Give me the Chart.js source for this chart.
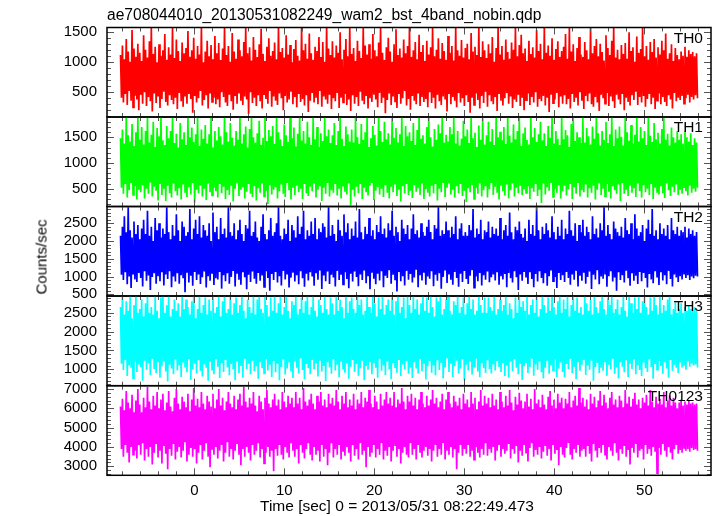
<!DOCTYPE html>
<html><head><meta charset="utf-8">
<script src="https://cdn.jsdelivr.net/npm/chart.js@4.4.1/dist/chart.umd.min.js"></script>
<style>
html,body{margin:0;padding:0;background:#fff;}
#wrap{position:relative;width:717px;height:516px;overflow:hidden;font-family:"Liberation Sans",Arial,Helvetica,sans-serif;}
#wrap canvas{position:absolute;left:0;top:0;}
.t{position:absolute;white-space:nowrap;color:#000;z-index:5;font-weight:normal;}
.v{writing-mode:vertical-rl;transform:translate(-50%,-50%) rotate(180deg);}
</style></head><body>
<div id="wrap">
<canvas id="c0" width="717" height="516"></canvas>
<canvas id="c1" width="717" height="516"></canvas>
<canvas id="c2" width="717" height="516"></canvas>
<canvas id="c3" width="717" height="516"></canvas>
<canvas id="c4" width="717" height="516"></canvas>
<div class="t" style="left:107px;top:7px;font-size:15.6px;line-height:15px;">ae708044010_20130531082249_wam2_bst_4band_nobin.qdp</div>
<div class="t v" style="left:41px;top:257px;font-size:15px;line-height:15px;">Counts/sec</div>
<div class="t" style="left:260px;top:498px;font-size:15.5px;line-height:15px;">Time [sec] 0 = 2013/05/31 08:22:49.473</div>
<div id="labels"></div>
</div>
<script>
// ---- time grid of the light curves (seconds from 2013/05/31 08:22:49.473) ----
const tStart = -8.2, tStep = 0.10701;   // 600 bins from -8.2 s to 55.9 s
const xMin = -9.7, xMax = 57.4;
const xTicks = [0, 10, 20, 30, 40, 50];

// ---- panel names ----
const bands = ['TH0', 'TH1', 'TH2', 'TH3', 'TH0123'];

// ---- count rates (counts/sec) ----
const th0 = [
1120,410,1280,330,1050,470,1390,290,1180,520,1010,360,1540,250,1230,440,1090,380,1310,200,
1160,460,1020,310,1450,500,1210,270,1080,420,1350,350,1580,180,1140,480,1260,320,1000,430,
1300,240,1110,390,1200,510,1470,340,1040,280,1250,450,1130,370,1580,300,1070,410,1380,220,
1190,490,1020,350,1330,260,1150,430,1240,310,1520,470,1090,390,1200,160,1410,440,1060,330,
1270,400,1130,520,1580,280,1000,370,1180,450,1360,230,1100,480,1290,340,1050,410,1440,300,
1150,380,1320,250,1040,500,1230,420,1580,330,1120,270,1270,460,1010,350,1490,210,1180,440,
1060,310,1380,480,1200,360,1100,290,1340,430,1580,380,1150,140,1250,500,1030,320,1420,410,
1210,270,1090,450,1300,350,1560,230,1140,470,1020,390,1260,310,1400,520,1110,260,1190,430,
1330,360,1050,290,1580,480,1170,400,1240,200,1080,440,1450,330,1130,380,1290,510,1000,300,
1220,420,1370,250,1110,470,1030,340,1580,390,1200,280,1310,450,1060,170,1480,360,1150,490,
1040,330,1260,410,1190,300,1420,520,1090,260,1340,430,1010,380,1580,310,1230,460,1120,220,
1350,400,1080,350,1280,490,1160,240,1500,410,1050,330,1210,470,1390,290,1100,380,1580,190,
1140,450,1240,310,1020,420,1360,270,1190,510,1070,360,1580,300,1280,440,1130,230,1300,400,
1060,340,1470,460,1200,380,1100,250,1330,490,1580,320,1160,410,1040,150,1250,370,1410,480,
1180,290,1010,430,1300,350,1550,240,1120,470,1230,310,1080,400,1380,520,1150,280,1270,390,
1580,210,1090,440,1200,360,1340,300,1050,480,1460,270,1170,420,1290,340,1020,390,1360,250,
1130,500,1250,320,1580,410,1100,230,1210,460,1400,350,1060,290,1320,430,1190,380,1040,180,
1440,470,1160,300,1270,420,1030,360,1580,250,1200,490,1110,330,1370,400,1080,270,1240,450,
1310,340,1050,160,1490,410,1180,290,1260,480,1120,370,1580,230,1090,440,1350,320,1200,510,
1070,260,1300,450,1150,350,1420,300,1010,420,1240,190,1580,470,1130,360,1270,280,1040,400,
1380,490,1170,310,1060,430,1330,240,1210,380,1580,340,1100,460,1290,270,1460,410,1150,200,
1230,370,1020,480,1360,290,1140,420,1250,330,1080,500,1540,260,1190,390,1310,350,1050,440,
1580,280,1160,410,1280,170,1110,460,1400,320,1040,380,1220,490,1350,250,1090,430,1190,310,
1260,450,1470,300,1060,390,1580,230,1180,470,1300,340,1020,410,1240,280,1420,500,1130,360,
1090,220,1340,440,1200,350,1050,480,1580,300,1150,260,1270,420,1390,330,1100,190,1310,460,
1170,400,1030,310,1450,490,1240,270,1120,430,1360,350,1580,240,1080,460,1210,380,1050,300,
1290,470,1140,200,1320,410,1060,340,1500,280,1190,450,1250,370,1010,510,1430,290,1160,420,
1220,330,1580,440,1100,260,1270,390,1040,470,1340,300,1170,410,1390,220,1080,360,1250,480,
1130,300,1360,420,1200,340,1480,270,1060,450,1150,380,1300,230,1020,490,1240,350,1120,410,
1050,370,1180,440,1110,310,1260,400,1090,460,1200,330,1140,420,1170,380,1100,450,1150,400];
const th1 = [
1480,520,1650,400,1380,590,1895,330,1540,470,1420,610,1760,380,1330,550,1600,290,1895,480,
1450,430,1700,570,1360,310,1620,500,1895,400,1400,620,1550,350,1800,540,1310,460,1680,270,
1520,590,1895,380,1440,500,1350,260,1720,560,1480,410,1620,330,1895,600,1390,450,1570,370,
1300,510,1780,290,1460,580,1600,420,1350,340,1895,530,1500,390,1690,610,1410,230,1560,480,
1895,410,1330,560,1650,350,1470,500,1740,280,1380,600,1560,430,1895,370,1300,520,1620,450,
1440,330,1700,590,1520,410,1360,540,1895,300,1600,470,1420,380,1780,560,1490,250,1340,500,
1620,600,1450,360,1895,480,1380,530,1560,310,1710,440,1300,590,1660,400,1895,340,1500,550,
1400,270,1580,510,1820,420,1350,600,1490,350,1895,460,1430,200,1640,570,1520,390,1720,480,
1370,530,1895,310,1600,450,1460,580,1330,400,1750,340,1540,610,1410,470,1895,290,1480,520,
1690,380,1320,560,1570,430,1895,500,1440,300,1620,590,1380,410,1800,360,1500,540,1350,450,
1895,600,1460,330,1700,480,1310,550,1580,260,1430,520,1895,400,1520,610,1650,350,1390,470,
1540,420,1780,590,1350,370,1620,500,1895,310,1470,560,1330,440,1710,390,1560,600,1420,180,
1650,480,1400,350,1895,540,1500,410,1370,590,1760,300,1450,520,1600,430,1895,370,1310,560,
1480,610,1720,280,1550,460,1340,530,1895,390,1620,500,1410,340,1800,570,1460,420,1580,310,
1360,540,1895,430,1490,600,1680,360,1400,480,1560,250,1895,550,1330,410,1720,590,1520,380,
1600,460,1430,320,1780,570,1350,440,1640,510,1895,380,1470,600,1540,300,1380,490,1700,420,
1895,350,1500,560,1320,410,1660,590,1450,270,1750,500,1580,430,1895,610,1400,340,1550,520,
1420,600,1700,390,1560,480,1895,330,1380,550,1620,410,1340,590,1470,360,1820,460,1520,240,
1650,510,1390,430,1895,570,1480,300,1590,520,1310,400,1730,600,1450,350,1895,470,1360,550,
1540,330,1800,490,1420,610,1660,380,1350,540,1895,420,1500,290,1610,560,1440,450,1700,370,
1370,580,1895,310,1530,470,1400,600,1750,350,1460,520,1620,410,1895,560,1330,380,1580,490,
1690,420,1450,550,1360,300,1895,510,1500,440,1680,590,1410,360,1560,480,1800,220,1440,600,
1580,390,1330,530,1720,460,1490,610,1895,340,1380,500,1620,420,1470,570,1350,310,1895,450,
1460,560,1640,370,1540,490,1310,590,1760,300,1895,530,1430,400,1600,610,1500,350,1390,470,
1895,430,1400,580,1680,330,1520,510,1360,420,1710,560,1470,290,1895,480,1580,600,1340,380,
1620,500,1450,350,1800,590,1390,440,1560,310,1895,550,1330,470,1650,400,1480,580,1710,260,
1510,610,1340,400,1895,480,1600,360,1440,560,1740,420,1380,510,1550,340,1895,600,1420,450,
1700,330,1480,570,1620,430,1350,500,1895,380,1530,590,1410,300,1780,520,1460,440,1590,390,
1380,550,1660,410,1895,320,1450,600,1570,470,1340,360,1690,540,1500,430,1400,580,1620,380,
1450,480,1560,400,1380,530,1620,450,1500,370,1420,560,1580,420,1350,500,1480,440,1400,520];
const th2 = [
2150,1050,2400,900,2700,1120,2250,780,2950,1000,2300,680,2100,1080,2550,920,2200,850,2450,1100,
2050,960,2350,720,2600,1150,2200,880,2850,1030,2150,620,2400,990,2000,1090,2650,800,2300,1010,
2500,870,2100,1120,2350,750,2200,1060,2950,930,2250,1150,2050,700,2450,1000,2150,860,2750,1090,
2300,800,2000,1040,2550,950,2400,560,2150,1110,2250,830,2900,1020,2050,740,2350,1130,2600,900,
2200,1060,2700,790,2100,980,2450,1140,2300,690,2150,1010,2500,880,2000,1100,2800,760,2250,950,
2400,920,2050,1130,2650,660,2200,1040,2350,870,2100,1090,2950,800,2250,990,2150,1160,2500,720,
2050,1080,2300,910,2600,770,2200,1120,2000,980,2450,640,2350,1050,2850,850,2150,1140,2250,940,
2550,800,2100,1100,2000,880,2400,1030,2750,710,2200,1150,2050,960,2300,600,2650,1070,2150,900,
2250,1130,2500,830,2950,1010,2150,750,2050,1160,2350,920,2200,1060,2600,690,2000,970,2450,1110,
2300,860,2100,1040,2700,780,2200,1150,2400,950,2850,710,2050,1080,2300,890,2150,1120,2550,1000,
2200,740,2650,1090,2050,910,2350,1170,2250,650,2500,1030,2400,870,2100,1140,2950,790,2150,1050,
2450,970,2200,720,2000,1160,2600,900,2300,1050,2150,780,2750,1120,2250,930,2500,670,2050,1080,
2350,860,2150,1140,2550,990,2100,730,2900,1060,2250,900,2050,1170,2400,810,2200,1010,2650,640,
2150,1110,2300,940,2050,780,2450,1080,2250,890,2700,1150,2200,700,2350,1020,2100,960,2500,1180,
2300,800,2850,1050,2150,920,2400,580,2250,1130,2000,870,2600,1010,2350,750,2200,1160,2450,910,
2050,1070,2350,830,2750,970,2200,1190,2300,700,2100,1040,2500,890,2250,1110,2150,770,2400,1000,
2600,940,2250,1150,2050,730,2450,1050,2350,880,2950,1090,2150,660,2300,990,2200,1170,2550,820,
2300,1060,2100,910,2400,770,2200,1130,2700,960,2050,710,2350,1080,2500,850,2150,1160,2250,930,
2150,790,2450,1020,2300,1180,2900,690,2100,1000,2350,870,2200,1100,2600,750,2050,1040,2300,910,
2250,1140,2550,840,2100,980,2400,1060,2200,890,2350,1120,2150,770,2650,1010,2050,920,2300,1070,
2450,700,2150,1100,2800,950,2250,830,2050,1150,2400,980,2300,620,2550,1060,2200,880,2100,1130,
2350,1000,2000,790,2600,1120,2200,930,2450,700,2150,1070,2950,860,2300,1150,2050,960,2400,810,
2200,1090,2500,740,2300,1010,2100,1170,2700,870,2250,990,2050,680,2400,1100,2150,900,2600,1040,
2050,850,2350,1130,2200,960,2850,770,2300,1060,2150,910,2500,1160,2000,720,2450,1020,2250,880,
2600,1110,2150,800,2400,990,2250,1140,2050,650,2700,1050,2200,920,2350,1180,2100,780,2500,1000,
2300,940,2950,1080,2150,710,2450,1010,2200,1150,2050,860,2550,970,2350,600,2250,1120,2150,900,
2400,1040,2100,830,2650,1160,2300,950,2200,740,2500,1090,2050,880,2750,1020,2350,790,2150,1130,
2250,870,2450,1100,2000,960,2350,690,2600,1070,2200,920,2900,810,2150,1150,2300,1000,2050,760,
2500,1120,2200,890,2350,1040,2150,780,2450,1160,2050,930,2650,720,2300,1060,2200,970,2400,850,
2150,1010,2300,920,2250,1080,2400,960,2100,1040,2350,900,2200,1000,2300,950,2150,1020,2250,1000];
const th3 = [
2650,1150,2942,980,2450,1250,2800,820,2550,1100,2942,1040,2350,760,2700,1200,2942,930,2500,1130,
2600,1060,2850,700,2400,1230,2750,990,2942,1160,2500,850,2650,1280,2450,1010,2942,900,2550,1190,
2350,780,2900,1080,2942,1210,2500,940,2700,680,2942,1120,2400,1020,2600,870,2850,1260,2550,970,
2750,1110,2400,800,2942,1180,2600,1050,2850,920,2650,1270,2450,720,2800,1000,2942,1150,2350,890,
2600,1240,2942,960,2500,810,2700,1130,2900,1040,2450,700,2850,1200,2550,990,2942,870,2500,1270,
2650,1070,2942,770,2400,1170,2800,930,2942,1250,2500,1050,2600,840,2942,1140,2450,1000,2750,710,
2900,1210,2500,900,2700,1090,2942,780,2550,1280,2350,1010,2850,1150,2650,870,2500,1230,2942,950,
2450,1080,2850,750,2942,1190,2600,1030,2500,890,2942,1270,2700,970,2400,1120,2900,800,2550,1220,
2942,920,2500,1150,2750,710,2942,1060,2450,1260,2650,860,2942,1020,2550,1180,2350,950,2800,770,
2700,1210,2942,1040,2450,890,2600,1290,2900,980,2500,740,2800,1140,2942,1030,2450,870,2650,1250,
2942,1000,2550,1160,2400,810,2850,1230,2700,940,2500,1090,2942,690,2600,1190,2450,1050,2900,880,
2750,1270,2450,970,2942,1120,2550,790,2850,1210,2650,1020,2350,910,2942,1160,2500,750,2800,1070,
2900,1250,2600,930,2500,1140,2942,830,2700,1030,2850,1230,2450,710,2550,1090,2942,990,2650,1190,
2500,870,2942,1160,2750,1040,2400,780,2900,1280,2600,960,2942,1110,2450,850,2700,1210,2850,1000,
2550,740,2942,1170,2450,1060,2800,910,2942,1250,2500,820,2650,1130,2900,1000,2350,1220,2942,880,
2700,1050,2500,770,2942,1190,2600,1020,2850,890,2450,1270,2750,950,2942,1150,2550,730,2900,1080,
2500,1220,2942,910,2650,1100,2400,840,2900,1240,2800,980,2942,1170,2450,760,2600,1050,2850,1290,
2942,930,2550,1150,2450,800,2800,1080,2700,1230,2942,890,2500,1020,2650,1270,2900,710,2450,1120,
2750,970,2942,1200,2600,860,2850,1070,2450,1290,2550,940,2942,790,2700,1160,2500,1030,2900,900,
2500,1240,2900,1010,2650,890,2550,1130,2942,970,2450,1220,2600,1060,2850,930,2550,1170,2700,820,
2942,1100,2450,780,2750,1200,2600,950,2350,1270,2900,1040,2500,870,2942,1150,2650,720,2800,1080,
2550,1190,2942,900,2450,1060,2700,1280,2850,830,2500,1130,2942,990,2400,1210,2600,920,2942,760,
2700,1040,2500,1230,2900,880,2550,1100,2942,970,2650,1260,2450,800,2800,1020,2942,1180,2500,930,
2850,790,2600,1140,2942,1010,2400,1280,2700,900,2942,1070,2550,740,2900,1190,2500,960,2650,1120,
2450,1250,2942,850,2750,1100,2550,990,2850,1230,2450,700,2942,1060,2650,1170,2500,900,2800,1040,
2942,960,2600,1210,2450,830,2900,1120,2700,1000,2942,1280,2500,880,2600,1050,2850,760,2450,1190,
2650,1070,2942,920,2550,1240,2400,800,2942,1150,2750,1010,2500,1260,2900,870,2600,1110,2942,980,
2500,820,2800,1180,2942,1030,2650,930,2450,1270,2900,1060,2550,750,2942,1140,2700,990,2450,1220,
2942,1090,2500,880,2700,1190,2550,1020,2850,780,2942,1250,2450,960,2600,1120,2800,1040,2500,900,
2600,1180,2750,1050,2500,1120,2650,990,2550,1200,2700,1070,2600,1150,2550,1100,2650,1130,2550,1050];
const th0123 = [
6100,3900,6500,3500,5900,4100,6900,3700,6300,3200,6000,4000,6700,3600,5800,3800,6400,3400,7000,4100,
6200,3600,5800,4200,6550,3300,6050,3900,7100,3500,6350,4000,5950,3100,6650,3700,6150,4150,6850,3450,
6000,3800,6450,3150,6750,4050,5900,3650,6300,2850,6900,3900,6100,3550,5850,4150,6550,3350,7000,3750,
6250,4000,5950,3450,6600,3800,6350,4250,6050,3250,6750,3600,5850,3950,6450,3500,7050,3900,6150,3150,
6500,3700,6050,4100,6850,3350,6250,3800,5950,4200,6650,3500,6350,2950,6100,3900,6750,3600,6000,4000,
6450,3400,7000,3800,6150,4100,6550,3250,5900,3700,6350,4250,6850,3500,6250,3900,6050,3350,6650,3800,
5950,4150,6450,3600,6750,3050,6150,3900,7100,3500,6350,4000,6050,3700,6550,3300,6250,4100,6850,3600,
6150,3800,5850,4200,6650,3450,6350,3900,5950,3150,6550,3700,6950,4000,6250,3500,6050,3800,6450,2750,
6750,3900,6150,3550,6450,4100,5950,3600,6850,3350,6350,4000,6050,3700,6650,3450,6250,4200,6550,3800,
6050,3500,6850,3900,6250,3150,6550,4100,5950,3700,7050,3400,6350,3900,6150,4200,6450,3600,6750,3300,
6250,4000,5950,3600,6650,3800,6350,3250,6850,4100,6150,3500,6450,3900,6050,3050,6750,3700,6250,4200,
6550,3450,6150,3900,6950,3600,6350,4100,5950,3350,6650,3800,6250,3550,6850,4000,6050,3700,6450,3250,
6150,4100,6750,3550,5950,3900,6450,3350,6250,4200,6850,3600,6050,3800,6550,2950,6350,4000,6950,3500,
6250,3700,6050,4100,6650,3450,6350,3900,5950,3600,6750,4200,6150,3350,6450,3800,6850,3550,6250,4000,
6550,3250,6150,3800,6850,4100,6050,3500,6450,3900,6250,3150,7050,3700,6350,4000,5950,3600,6650,3450,
6350,4200,6750,3600,6150,3900,6550,3350,5950,4100,6450,3700,6850,3450,6250,3800,6050,4000,6650,3550,
6150,3900,6450,3250,6950,3800,6250,4100,6550,3500,6050,3900,6350,3600,6750,4200,5950,3350,6450,3800,
6850,3600,6250,4000,6050,3450,6650,3900,6350,2850,6150,3700,6550,4100,5950,3550,6750,3900,6250,3650,
6450,4100,6050,3500,6850,3800,6250,3350,6550,4000,5950,3700,6350,3450,6950,3900,6150,3600,6650,4200,
6250,3550,6550,3900,6050,3700,6750,4000,6150,3300,6450,3800,5950,4100,6850,3500,6350,3900,6050,3650,
6650,3800,6150,4150,6950,3400,6300,3900,5900,3650,6600,4050,6200,3200,6800,3800,6400,3550,6000,4100,
6350,3700,6750,3250,6100,3950,6500,4200,5950,3500,7000,3850,6250,3600,6450,4000,6050,3400,6700,3750,
6200,4050,5950,3550,6600,3900,6900,3300,6150,4150,6450,3650,6000,3850,6750,3050,6300,4000,6550,3600,
6000,3450,6500,3950,6250,4200,6850,3600,6050,3350,6400,3900,6650,3700,6150,4100,7050,3500,6300,3800,
6550,3900,6100,3500,6450,4050,5950,3650,6750,3250,6250,4150,6600,3800,6050,3450,6400,3950,6900,3700,
6150,4100,6700,3600,6300,3350,6000,4000,6550,3800,6850,3550,6200,4200,6450,3700,6050,3300,6650,3900,
6400,3650,6050,4050,6950,3500,6250,3850,6600,3100,6100,3950,6500,3700,6800,4150,6200,3450,6450,3800,
6000,3900,6550,3350,6300,4100,6700,3650,6150,3900,6950,3550,6350,4000,6050,3750,6600,2650,6250,3950,
6500,3600,6200,4150,6850,3800,6050,3500,6400,4000,6650,3700,6150,3350,6550,3900,6300,4100,6000,3650,
6300,3850,6450,3700,6150,3950,6350,3800,6200,3900,6400,3750,6250,3950,6300,3850,6200,3900,6250,3800];

// ---- y tick labels and axis ranges ----
const th0Ticks = [500, 1000, 1500];
const th1Ticks = [500, 1000, 1500];
const th2Ticks = [500, 1000, 1500, 2000, 2500];
const th3Ticks = [1000, 1500, 2000, 2500];
const th0123Ticks = [3000, 4000, 5000, 6000, 7000];
const yMins = [88, 154, 452, 566, 2534];
const yMaxs = [1580, 1895, 2972, 2942, 7171];

// ---- presentation ----
const series = [th0, th1, th2, th3, th0123];
const yTicks = [th0Ticks, th1Ticks, th2Ticks, th3Ticks, th0123Ticks];
const yMinor = [100, 100, 100, 100, 200];
const colors = ['#ff0000', '#00ff00', '#0000ff', '#00ffff', '#ff00ff'];
const panelTop = [27.5, 117, 206.5, 296, 385.7];
const panelBottom = [117, 206.5, 296, 385.7, 475.3];
const FONT = '"Liberation Sans", Arial, Helvetica, sans-serif';
const W = 717, H = 516;

const framePlugin = {
  id: 'frame',
  afterDatasetsDraw(chart, args, o) {
    const { ctx, chartArea: a } = chart;
    const x = chart.scales.x, y = chart.scales.y;
    ctx.save();
    ctx.strokeStyle = '#555';
    ctx.lineWidth = 1;
    ctx.beginPath();
    const near = (v, s) => Math.abs(v / s - Math.round(v / s)) < 1e-6;
    for (let v = Math.ceil(x.min / o.xMinor) * o.xMinor; v <= x.max; v += o.xMinor) {
      const px = Math.round(x.getPixelForValue(v)) + 0.5;
      const L = near(v, o.xMajor) ? 7 : 4;
      ctx.moveTo(px, a.top); ctx.lineTo(px, a.top + L);
      ctx.moveTo(px, a.bottom); ctx.lineTo(px, a.bottom - L);
    }
    for (let v = Math.ceil(y.min / o.yMinor) * o.yMinor; v <= y.max; v += o.yMinor) {
      const py = Math.round(y.getPixelForValue(v)) + 0.5;
      const L = o.yMajorList.includes(v) || near(v, o.yMajor) ? 7 : 4;
      ctx.moveTo(a.left, py); ctx.lineTo(a.left + L, py);
      ctx.moveTo(a.right, py); ctx.lineTo(a.right - L, py);
    }
    ctx.stroke();
    ctx.strokeStyle = '#000';
    ctx.lineWidth = 1.5;
    ctx.strokeRect(a.left, a.top, a.right - a.left, a.bottom - a.top);
    ctx.restore();
  }
};

const labelsDiv = document.getElementById('labels');
bands.forEach((name, i) => {
  const last = i === bands.length - 1;
  const xh = last ? 40 : 0;
  const pts = series[i].map((v, k) => ({ x: tStart + k * tStep, y: v }));
  const step = yTicks[i][1] - yTicks[i][0];
  new Chart(document.getElementById('c' + i), {
    type: 'line',
    data: {
      datasets: [
        { data: pts, borderColor: colors[i], borderWidth: 1.7, pointRadius: 0, fill: false, tension: 0, borderJoinStyle: 'miter' }
      ]
    },
    options: {
      responsive: false,
      animation: false,
      events: [],
      layout: { padding: { top: panelTop[i], bottom: H - panelBottom[i] - xh, left: 0, right: 6 } },
      plugins: {
        legend: { display: false },
        tooltip: { enabled: false },
        frame: { xMinor: 2, xMajor: 10, yMinor: yMinor[i], yMajor: step, yMajorList: yTicks[i] }
      },
      scales: {
        x: {
          type: 'linear', min: xMin, max: xMax,
          afterBuildTicks: s => { s.ticks = xTicks.map(v => ({ value: v })); },
          afterFit: s => { s.height = xh; },
          grid: { display: false, drawTicks: false },
          border: { display: false },
          ticks: { display: last, autoSkip: false, maxRotation: 0, padding: 7, color: '#000',
                   font: { family: FONT, size: 15 }, callback: v => String(v) }
        },
        y: {
          type: 'linear', min: yMins[i], max: yMaxs[i],
          afterBuildTicks: s => { s.ticks = yTicks[i].map(v => ({ value: v })); },
          afterFit: s => { s.width = 107; },
          grid: { display: false, drawTicks: false },
          border: { display: false },
          ticks: { autoSkip: false, padding: 10, color: '#000',
                   font: { family: FONT, size: 15 }, callback: v => String(v) }
        }
      }
    },
    plugins: [framePlugin]
  });
  const d = document.createElement('div');
  d.className = 't';
  d.style.cssText = 'right:14px;top:' + (panelTop[i] + 2) + 'px;font-size:15.5px;line-height:15px;';
  d.textContent = name;
  labelsDiv.appendChild(d);
});
</script>
</body></html>
